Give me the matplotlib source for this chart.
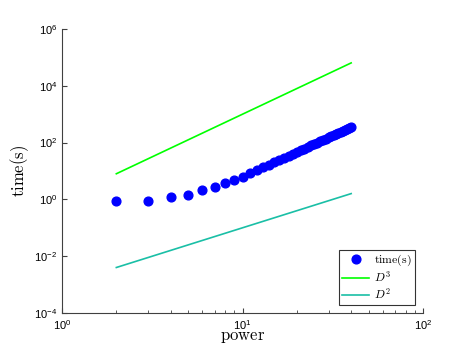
import matplotlib
matplotlib.use("Agg")
import matplotlib.pyplot as plt
from matplotlib.ticker import LogLocator, NullLocator, NullFormatter

plt.rcParams['mathtext.fontset'] = 'cm'
plt.rcParams['font.family'] = ['Liberation Sans', 'DejaVu Sans']

power = list(range(2, 41))
time_s = [0.9, 0.88, 1.19, 1.45, 2.07, 2.7, 3.75, 4.8, 6.0, 8.4,
          10.6, 13.3, 16.4, 20.0, 24.1, 28.7, 33.9, 39.7, 46.2, 53.4,
          61.2, 69.8, 79.2, 89.4, 100.5, 112.4, 125.3, 139.1, 153.9, 169.8,
          186.6, 204.6, 223.6, 244.0, 265.4, 288.0, 312.0, 337.0, 363.0]
line_x = [2, 40]
d3 = [8, 64000]
d2 = [0.004, 1.6]

fig = plt.figure(figsize=(4.68, 3.55), dpi=100)
ax = fig.add_axes([62/468, 1-313/355, (423-62)/468, (313-29)/355])

ax.plot(power, time_s, 'o', color=(0, 0, 1), markersize=6.3, label=r'$\mathrm{time(s)}$', zorder=3)
ax.plot(line_x, d3, '-', color=(0, 1, 0), lw=1.2, label=r'$D^3$')
ax.plot(line_x, d2, '-', color=(0.1, 0.75, 0.65), lw=1.2, label=r'$D^2$')

ax.set_xscale('log')
ax.set_yscale('log')
ax.set_xlim(1, 100)
ax.set_ylim(1e-4, 1e6)
ax.xaxis.set_major_locator(LogLocator(base=10, numticks=10))
ax.xaxis.set_minor_locator(LogLocator(base=10, subs=range(2, 10), numticks=10))
ax.xaxis.set_minor_formatter(NullFormatter())
ax.set_yticks([1e-4, 1e-2, 1, 1e2, 1e4, 1e6])
ax.yaxis.set_minor_locator(NullLocator())

for s in ['top', 'right']:
    ax.spines[s].set_visible(False)
for s in ['left', 'bottom']:
    ax.spines[s].set_color('#404040')
    ax.spines[s].set_linewidth(0.8)
ax.tick_params(which='both', direction='in', colors='#404040', labelcolor='black', labelsize=8)
ax.tick_params(which='major', length=3.5)
ax.tick_params(which='minor', length=2)

ax.set_xlabel(r'$\mathrm{power}$', fontsize=12, labelpad=-1)
ax.set_ylabel(r'$\mathrm{time(s)}$', fontsize=12, labelpad=2)

leg = ax.legend(loc='lower right', fontsize=8.5, frameon=True, fancybox=False,
                edgecolor='black', handlelength=2.3, borderpad=0.25,
                labelspacing=0.15, handletextpad=0.4, borderaxespad=0.7)
leg.get_frame().set_linewidth(0.8)

fig.savefig('out.png', dpi=100)
